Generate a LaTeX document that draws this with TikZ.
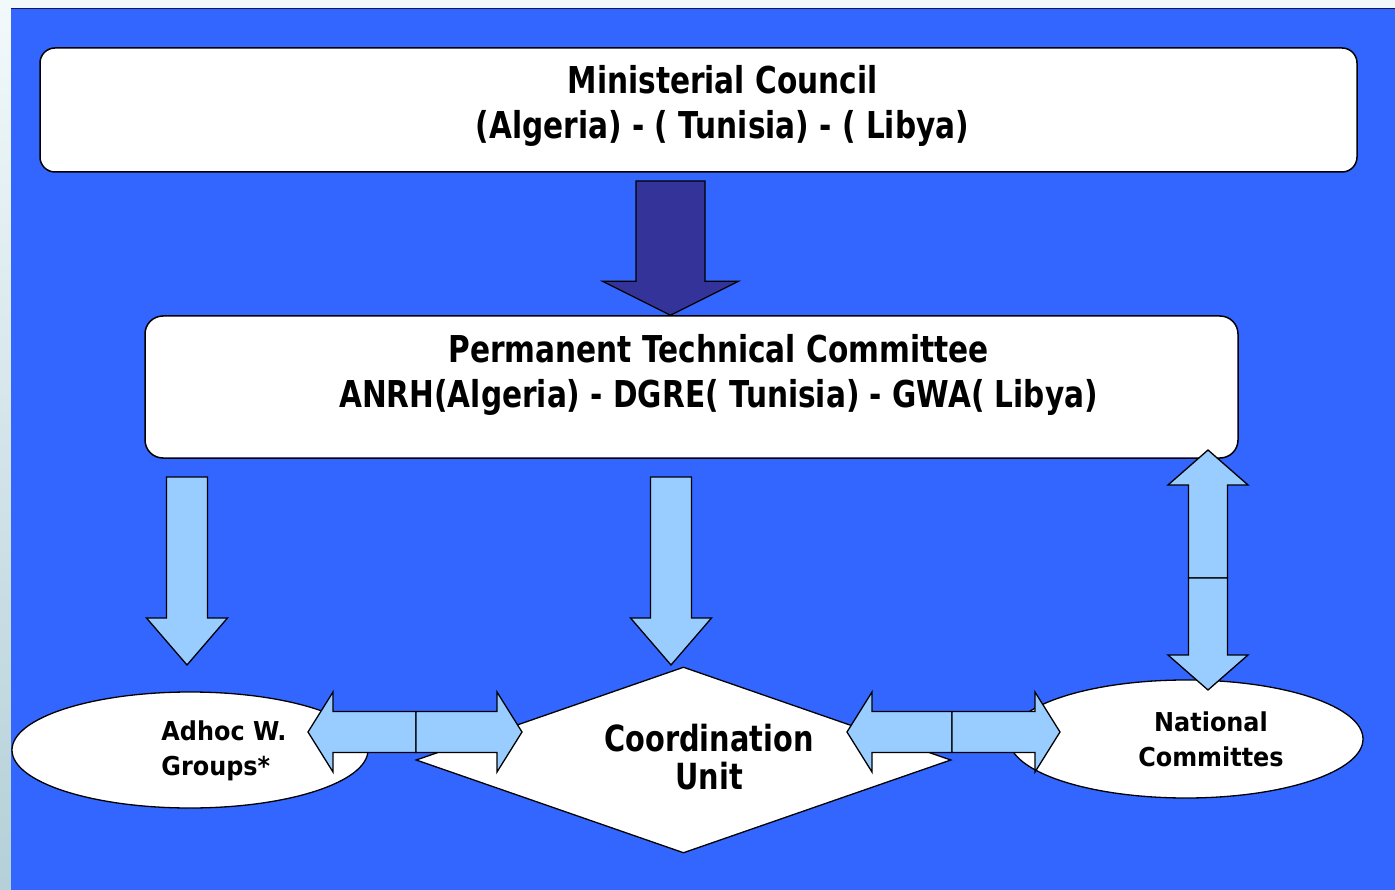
\documentclass[tikz,border=0pt]{standalone}
\usepackage{fontspec}
\usetikzlibrary{calc,shapes.geometric}

\newfontfamily\headfont[FakeStretch=0.8]{DejaVu Sans}
\newfontfamily\notefont[FakeStretch=0.92]{DejaVu Sans}

\definecolor{slideblue}{HTML}{3366FF}
\definecolor{paleblue}{HTML}{99CCFF}
\definecolor{navyblue}{HTML}{333399}
\definecolor{topline}{HTML}{101860}
\definecolor{stripetop}{HTML}{F2F9FB}
\definecolor{stripebot}{HTML}{B4D0D8}

\tikzset{
    box/.style={draw=black, fill=white, line width=1.5pt, rectangle, inner sep=0pt},
    oval/.style={draw=black, fill=white, line width=1.3pt, ellipse, inner sep=0pt},
    rhombus/.style={draw=black, fill=white, line width=1.3pt, diamond, inner sep=0pt},
    headtext/.style={align=center, font=\headfont\bfseries\fontsize{37}{45}\selectfont},
    unittext/.style={align=center, font=\headfont\bfseries\fontsize{36}{38}\selectfont},
    notetext/.style={font=\notefont\bfseries\fontsize{26}{35}\selectfont},
    % shaft half width / head half width / head length
    blockarrow/.style args={#1/#2/#3}{draw=black, line width=1.3pt, line join=miter,
        to path={let \p1=(\tikztostart), \p2=(\tikztotarget),
            \n1={atan2(\y2-\y1,\x2-\x1)}, \p3=($(\p2)+(\n1+180:#3)$) in
            ($(\p1)+(\n1+90:#1)$) -- ($(\p3)+(\n1+90:#1)$) -- ($(\p3)+(\n1+90:#2)$)
            -- (\p2) -- ($(\p3)+(\n1-90:#2)$) -- ($(\p3)+(\n1-90:#1)$)
            -- ($(\p1)+(\n1-90:#1)$) -- cycle}},
    darkarrow/.style={blockarrow=34.5pt/68pt/34pt, fill=navyblue},
    downarrow/.style={blockarrow=20.5pt/40.5pt/47pt, fill=paleblue},
    hbar/.style={blockarrow=20.5pt/40pt/25pt, fill=paleblue},
    vbar/.style={blockarrow=19.5pt/40pt/35pt, fill=paleblue}
}

\begin{document}
\begin{tikzpicture}[x=1pt, y=-1pt]
    \useasboundingbox (0,0) rectangle (1395,890);

    % Slide background
    \fill[stripetop] (0,0) rectangle (1395,890);
    \shade[top color=stripetop, bottom color=stripebot] (0,0) rectangle (11,890);
    \fill[slideblue] (11,8.5) rectangle (1395,890);
    \draw[topline, line width=1.5pt] (11,8.5) -- (1395,8.5);

    % Ministerial council
    \node[box, rounded corners=15pt, minimum width=1317pt, minimum height=124pt] (council) at (698.5,110) {};
    \node[headtext] (council-txt) at ([xshift=24pt,yshift=4pt]council.center)
        {Ministerial Council\\(Algeria) - ( Tunisia) - ( Libya)};

    % Permanent technical committee
    \node[box, rounded corners=18pt, minimum width=1093pt, minimum height=142pt] (ptc) at (691.5,387) {};
    \node[headtext] (ptc-txt) at ([xshift=27pt,yshift=12.5pt]ptc.center)
        {Permanent Technical Committee\\ANRH(Algeria) - DGRE( Tunisia) - GWA( Libya)};

    % Bottom row
    \node[oval, minimum width=356pt, minimum height=116pt] (adhoc) at (190,750) {};
    \node[rhombus, minimum width=535pt, minimum height=186pt] (coord) at (683.5,760) {};
    \node[oval, minimum width=354pt, minimum height=118pt] (natcom) at (1186,739) {};

    % Arrow ends
    \coordinate (dk) at (670.5,181);
    \coordinate (l1) at (187,477);  \coordinate (l2) at (187,665);
    \coordinate (m1) at (671,477);  \coordinate (m2) at (671,665);
    \coordinate (h0) at (416,732);  \coordinate (h1) at (308,732);  \coordinate (h2) at (522,732);
    \coordinate (k0) at (952,732);  \coordinate (k1) at (847,732);  \coordinate (k2) at (1060,732);
    \coordinate (v0) at (1208,578); \coordinate (v1) at (1208,450); \coordinate (v2) at (1208,690);

    % Arrows
    \draw[darkarrow] (dk) to (dk |- ptc.north);
    \foreach \a in {l,m} {
        \draw[downarrow] (\a1) to (\a2);
    }
    \foreach \a/\s in {h/hbar,k/hbar,v/vbar} {
        \draw[\s] (\a0) to (\a1);
        \draw[\s] (\a0) to (\a2);
    }

    % Labels
    \node[notetext, align=left] (adhoc-txt) at ([xshift=34pt,yshift=-1pt]adhoc.center) {Adhoc W.\\Groups*};
    \node[unittext] (coord-txt) at ([xshift=25.5pt,yshift=3pt]coord.center) {Coordination\\Unit};
    \node[notetext, align=center] (natcom-txt) at ([xshift=25pt]natcom.center) {National\\Committes};
\end{tikzpicture}
\end{document}
